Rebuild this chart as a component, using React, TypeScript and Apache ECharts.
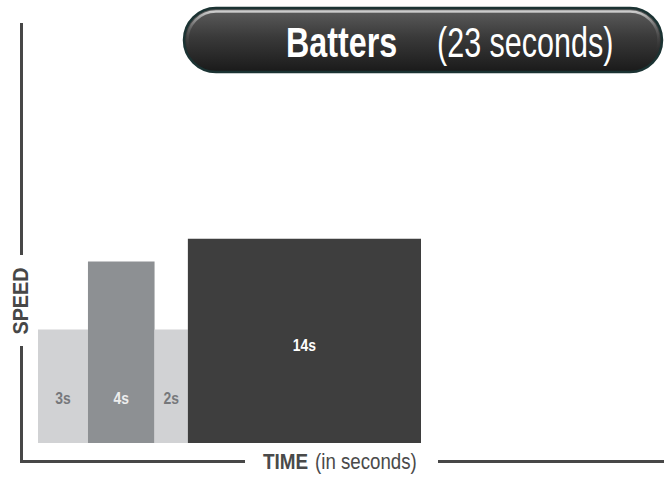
import React, { useEffect, useRef } from "react";
import * as echarts from "echarts";

// Data
const durations = [3, 4, 2, 14]; // seconds (bar widths)
const speeds = [5, 8, 5, 9]; // relative speed (bar heights)
const barLabels = ["3s", "4s", "2s", "14s"];
const titleMain = "Batters";
const titleSub = "(23 seconds)";
const xAxisTitleBold = "TIME";
const xAxisTitleRest = "(in seconds)";
const yAxisTitle = "SPEED";

const barColors = ["#d1d2d4", "#8d9093", "#d1d2d4", "#3e3e3e"];
const labelColors = ["#76787b", "#eeeeee", "#76787b", "#ffffff"];
const FONT = "'Liberation Sans', Arial, sans-serif";

export default function App() {
  const ref = useRef<HTMLDivElement>(null);
  useEffect(() => {
    if (!ref.current) return;
    const chart = echarts.init(ref.current, undefined, { renderer: "svg" });
    let acc = 0;
    const data = durations.map((d, i) => {
      const item = [acc, acc + d, speeds[i], i];
      acc += d;
      return item;
    });
    const total = acc;
    chart.setOption({
      animation: false,
      grid: { left: 38, top: 216, width: 383, height: 227 },
      xAxis: { type: "value", min: 0, max: total, show: false },
      yAxis: { type: "value", min: 0, max: 10, show: false },
      series: [
        {
          type: "custom",
          data,
          renderItem: (params: any, api: any) => {
            const idx = api.value(3);
            const p0 = api.coord([api.value(0), 0]);
            const p1 = api.coord([api.value(1), api.value(2)]);
            const w = p1[0] - p0[0];
            const h = p0[1] - p1[1];
            const cx = p0[0] + w / 2;
            const ly = idx === 3 ? p1[1] + h * 0.52 : p0[1] - 45;
            return {
              type: "group",
              children: [
                {
                  type: "rect",
                  shape: { x: p0[0], y: p1[1], width: w, height: h },
                  style: { fill: barColors[idx] },
                },
                {
                  type: "text",
                  x: cx,
                  y: ly,
                  scaleX: 0.82,
                  style: {
                    text: barLabels[idx],
                    x: 0,
                    y: 0,
                    align: "center",
                    verticalAlign: "middle",
                    textAlign: "center",
                    textVerticalAlign: "middle",
                    fill: labelColors[idx],
                    font: `bold 17px ${FONT}`,
                  },
                },
              ],
            };
          },
        },
      ],
      graphic: [
        // y axis line (with gap for label)
        { type: "line", shape: { x1: 21.5, y1: 23, x2: 21.5, y2: 255 }, style: { stroke: "#474747", lineWidth: 3 } },
        { type: "line", shape: { x1: 21.5, y1: 346, x2: 21.5, y2: 463 }, style: { stroke: "#474747", lineWidth: 3 } },
        // x axis line (with gap for label)
        { type: "line", shape: { x1: 20, y1: 461.5, x2: 245, y2: 461.5 }, style: { stroke: "#474747", lineWidth: 3 } },
        { type: "line", shape: { x1: 438, y1: 461.5, x2: 664, y2: 461.5 }, style: { stroke: "#474747", lineWidth: 3 } },
        {
          type: "text",
          x: 20,
          y: 301,
          rotation: Math.PI / 2,
          scaleX: 0.9,
          style: {
            text: yAxisTitle,
            x: 0,
            y: 0,
            align: "center",
            verticalAlign: "middle",
            fill: "#474747",
            font: `bold 22px ${FONT}`,
          },
        },
        {
          type: "text",
          x: 263,
          y: 461,
          scaleX: 0.86,
          style: {
            text: xAxisTitleBold,
            x: 0,
            y: 0,
            verticalAlign: "middle",
            fill: "#4a4a4a",
            font: `bold 22px ${FONT}`,
          },
        },
        {
          type: "text",
          x: 315,
          y: 461,
          scaleX: 0.85,
          style: {
            text: xAxisTitleRest,
            x: 0,
            y: 0,
            verticalAlign: "middle",
            fill: "#4a4a4a",
            font: `22px ${FONT}`,
          },
        },
        // title pill
        {
          type: "rect",
          shape: { x: 184, y: 8, width: 478, height: 64, r: 32 },
          style: {
            fill: {
              type: "linear", x: 0, y: 0, x2: 0, y2: 1,
              colorStops: [
                { offset: 0, color: "#5e5e5e" },
                { offset: 0.45, color: "#3a3a3a" },
                { offset: 1, color: "#1a1a1a" },
              ],
            },
            stroke: "#1b3333",
            lineWidth: 2.5,
          },
        },
        {
          type: "rect",
          shape: { x: 187.5, y: 11.5, width: 471, height: 57, r: 28.5 },
          style: {
            fill: "none",
            stroke: {
              type: "linear", x: 0, y: 0, x2: 0, y2: 1,
              colorStops: [
                { offset: 0, color: "rgba(210,210,210,0.95)" },
                { offset: 0.3, color: "rgba(150,150,150,0.35)" },
                { offset: 0.7, color: "rgba(60,60,60,0)" },
                { offset: 1, color: "rgba(60,60,60,0)" },
              ],
            },
            lineWidth: 2.5,
          },
        },
        {
          type: "text",
          x: 286,
          y: 42,
          scaleX: 0.75,
          style: {
            text: titleMain,
            x: 0,
            y: 0,
            verticalAlign: "middle",
            fill: "#ffffff",
            font: `bold 43px ${FONT}`,
          },
        },
        {
          type: "text",
          x: 437,
          y: 42,
          scaleX: 0.71,
          style: {
            text: titleSub,
            x: 0,
            y: 0,
            verticalAlign: "middle",
            fill: "#ffffff",
            font: `43px ${FONT}`,
          },
        },
      ],
    });
    return () => chart.dispose();
  }, []);
  return <div ref={ref} style={{ position: "absolute", left: 0, top: 0, width: 664, height: 479 }} />;
}
